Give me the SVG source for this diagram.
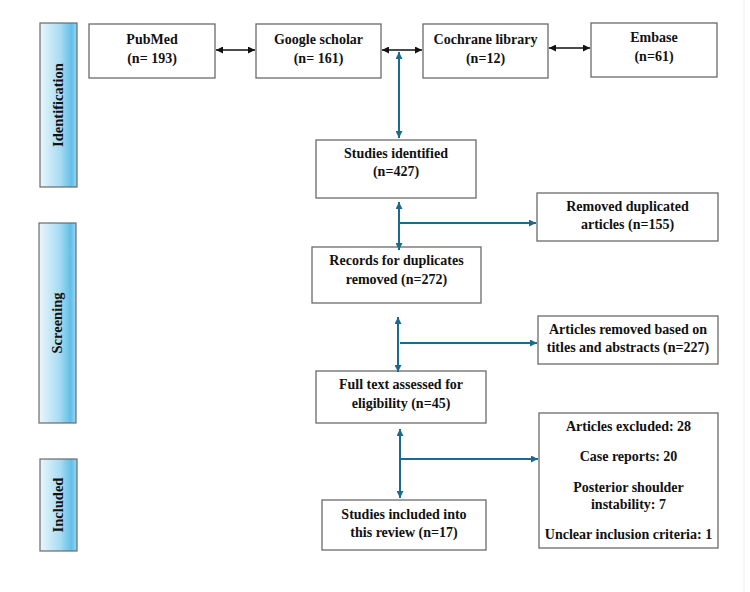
<svg xmlns="http://www.w3.org/2000/svg" width="750" height="592" viewBox="0 0 750 592">
<style>
.box{fill:#fff;stroke:#6a6a6a;stroke-width:1.3}
.bar{fill:url(#barGrad);stroke:#6a6a6a;stroke-width:1.2}
text{font-family:"Liberation Serif","Times New Roman",serif;font-weight:bold;font-size:14px;fill:#111;text-anchor:middle}
.side{font-size:14.5px}
.blk{stroke:#111;stroke-width:1.5;fill:none}
.blu{stroke:#1d6a8f;stroke-width:2;fill:none}
</style>
<defs>
<linearGradient id="barGrad" x1="0" y1="0" x2="1" y2="0">
<stop offset="0" stop-color="#eaf6fc"/>
<stop offset="0.55" stop-color="#a8dcf3"/>
<stop offset="0.85" stop-color="#62bfe8"/>
<stop offset="1" stop-color="#9ad6f1"/>
</linearGradient>
<marker id="ak" viewBox="0 0 10 10" refX="10" refY="5" markerWidth="8" markerHeight="7" markerUnits="userSpaceOnUse" orient="auto-start-reverse">
<path d="M0,0 L10,5 L0,10 z" fill="#111"/>
</marker>
<marker id="ab" viewBox="0 0 10 10" refX="10" refY="5" markerWidth="8" markerHeight="7" markerUnits="userSpaceOnUse" orient="auto-start-reverse">
<path d="M0,0 L10,5 L0,10 z" fill="#1d6a8f"/>
</marker>
</defs>
<rect width="750" height="592" fill="#fff"/>
<line x1="744" y1="0" x2="744" y2="592" stroke="#ececec" stroke-width="1"/>

<g id="phase-identification">
<rect class="bar" x="40" y="23" width="37" height="164"/>
<text class="side" transform="translate(63,105) rotate(-90)">Identification</text>
</g>
<g id="phase-screening">
<rect class="bar" x="39" y="223" width="37" height="200"/>
<text class="side" transform="translate(62,323) rotate(-90)">Screening</text>
</g>
<g id="phase-included">
<rect class="bar" x="40" y="459" width="37" height="92"/>
<text class="side" transform="translate(63,505) rotate(-90)">Included</text>
</g>

<g id="pubmed">
<rect class="box" x="89" y="24" width="126" height="54"/>
<text x="152" y="44">PubMed</text>
<text x="152" y="63">(n= 193)</text>
</g>
<g id="google">
<rect class="box" x="256" y="24" width="125" height="54"/>
<text x="318.5" y="44">Google scholar</text>
<text x="318.5" y="63">(n= 161)</text>
</g>
<g id="cochrane">
<rect class="box" x="423" y="24" width="125" height="54"/>
<text x="485.5" y="44">Cochrane library</text>
<text x="485.5" y="63">(n=12)</text>
</g>
<g id="embase">
<rect class="box" x="591" y="23" width="126" height="54"/>
<text x="654" y="42">Embase</text>
<text x="654" y="61">(n=61)</text>
</g>

<g id="identified">
<rect class="box" x="316" y="140" width="160" height="58"/>
<text x="396" y="158">Studies identified</text>
<text x="396" y="176">(n=427)</text>
</g>
<g id="removed-dup">
<rect class="box" x="537" y="193" width="181" height="48"/>
<text x="627.5" y="211">Removed duplicated</text>
<text x="627.5" y="229">articles (n=155)</text>
</g>
<g id="records">
<rect class="box" x="312" y="247" width="169" height="56"/>
<text x="396.5" y="265">Records for duplicates</text>
<text x="396.5" y="284">removed (n=272)</text>
</g>
<g id="removed-titles">
<rect class="box" x="538" y="316" width="180" height="48"/>
<text x="628" y="334">Articles removed based on</text>
<text x="628" y="352">titles and abstracts (n=227)</text>
</g>
<g id="fulltext">
<rect class="box" x="316" y="371" width="170" height="52"/>
<text x="401" y="389">Full text assessed for</text>
<text x="401" y="408">eligibility (n=45)</text>
</g>
<g id="excluded">
<rect class="box" x="539" y="413" width="179" height="135"/>
<text x="628.5" y="431">Articles excluded: 28</text>
<text x="628.5" y="461">Case reports: 20</text>
<text x="628.5" y="492">Posterior shoulder</text>
<text x="628.5" y="509">instability: 7</text>
<text x="628.5" y="539">Unclear inclusion criteria: 1</text>
</g>
<g id="included">
<rect class="box" x="322" y="500" width="164" height="50"/>
<text x="404" y="519">Studies included into</text>
<text x="404" y="537">this review (n=17)</text>
</g>

<g id="connectors">
<line class="blk" x1="216" y1="50" x2="255" y2="50" marker-start="url(#ak)" marker-end="url(#ak)"/>
<line class="blk" x1="382" y1="50" x2="422" y2="50" marker-start="url(#ak)" marker-end="url(#ak)"/>
<line class="blk" x1="549" y1="48" x2="590" y2="48" marker-start="url(#ak)" marker-end="url(#ak)"/>

<line class="blu" x1="399" y1="52" x2="399" y2="138" marker-start="url(#ab)" marker-end="url(#ab)"/>

<line class="blu" x1="399" y1="202" x2="399" y2="250" marker-start="url(#ab)" marker-end="url(#ab)"/>
<line class="blu" x1="399" y1="223" x2="536" y2="223" marker-end="url(#ab)"/>

<line class="blu" x1="398" y1="317" x2="398" y2="372" marker-start="url(#ab)" marker-end="url(#ab)"/>
<line class="blu" x1="400" y1="343" x2="537" y2="343" marker-end="url(#ab)"/>

<line class="blu" x1="400" y1="429" x2="400" y2="498" marker-start="url(#ab)" marker-end="url(#ab)"/>
<line class="blu" x1="400" y1="459" x2="538" y2="459" marker-end="url(#ab)"/>
</g>
</svg>
